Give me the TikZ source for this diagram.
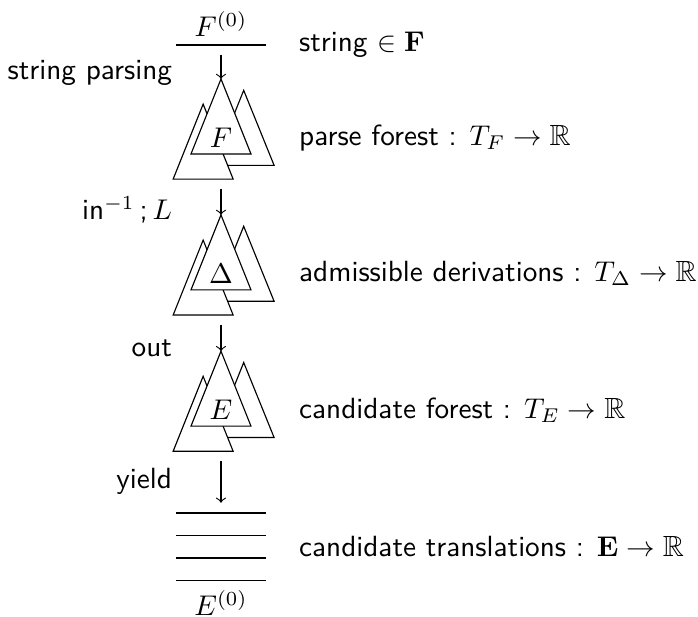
\documentclass[tikz,border=0pt]{standalone}
\usepackage{amssymb}

\begin{document}
\begin{tikzpicture}[font=\sffamily\fontsize{10.25}{12.3}\selectfont,
    tree/.style={draw, fill=white},
    desc/.style={anchor=west},
    oplabel/.style={anchor=east}]
  \useasboundingbox (-2.725,0.555) rectangle (5.882,-7.053);
  % source string
  \draw (-0.555,0) -- (0.555,0);
  \node (F0) at (0,0.26) {$F^{(0)}$};
  \coordinate (src) at (0,-0.12);
  \node[desc] (string) at (0.84,0) {string $\in \mathbf{F}$};
  % the three forests
  \foreach \y/\sym/\name/\txt in {-1.344/F/pf/{parse forest : $T_F \to \mathbb{R}$},
      -3.02/\Delta/ad/{admissible derivations : $T_\Delta \to \mathbb{R}$},
      -4.70/E/cf/{candidate forest : $T_E \to \mathbb{R}$}} {
    \begin{scope}[shift={(0,\y)}]
      \draw[tree] (-0.09,-0.14) -- (0.28,0.785) -- (0.655,-0.14) -- cycle;
      \draw[tree] (-0.59,-0.31) -- (-0.22,0.615) -- (0.15,-0.31) -- cycle;
      \draw[tree] (-0.37,0) -- (0,0.925) -- (0.37,0) -- cycle;
      \node (\name) at (0,0.2) {$\sym$};
      \coordinate (\name-top) at (0,0.925);
      \coordinate (\name-end) at (0,-0.43);
      \node[desc] (\name-txt) at (0.84,0.2) {\txt};
    \end{scope}
  }
  \draw[->] (src) -- (pf-top);
  \draw[->] (pf-end) -- (ad-top);
  \draw[->] (ad-end) -- (cf-top);
  \coordinate (trans-top) at (0,-5.645);
  \draw[->] (cf-end) -- (trans-top);
  % translations
  \foreach \k in {0,...,3}
    \draw (-0.555,-5.77-0.278*\k) -- (0.555,-5.77-0.278*\k);
  \node (E0) at (0,-6.88) {$E^{(0)}$};
  \node[desc] (trans) at (0.84,-6.19) {candidate translations : $\mathbf{E} \to \mathbb{R}$};
  % operations
  \node[oplabel] (parsing) at (-0.48,-0.35) {string parsing};
  \node[oplabel] (inv) at (-0.48,-2.03) {in$^{-1}$\,;\,$L$};
  \node[oplabel] (out) at (-0.48,-3.74) {out};
  \node[oplabel] (yield) at (-0.48,-5.38) {yield};
\end{tikzpicture}
\end{document}
